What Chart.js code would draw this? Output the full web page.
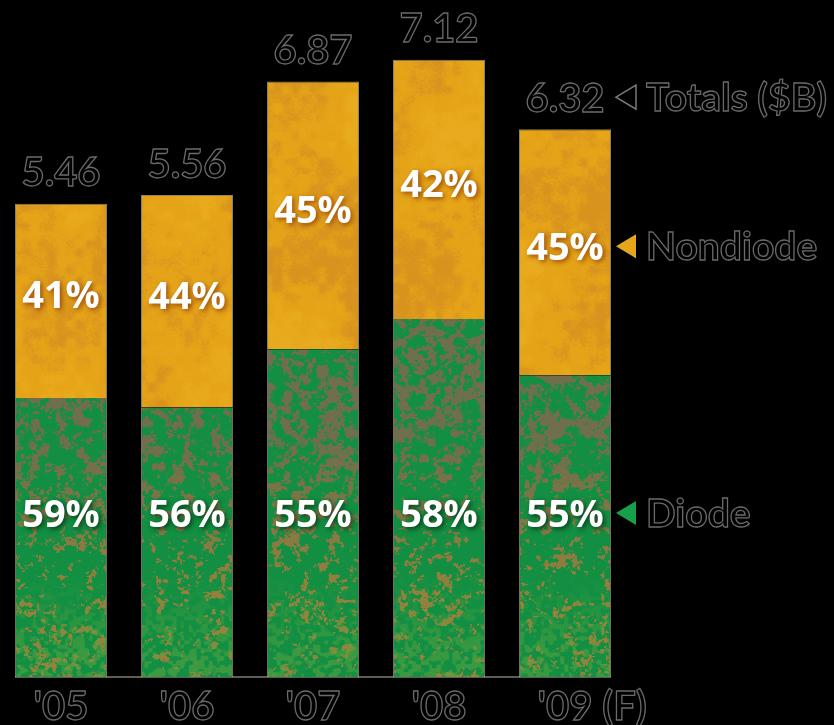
<!DOCTYPE html>
<html>
<head>
<meta charset="utf-8">
<script src="https://cdn.jsdelivr.net/npm/chart.js@4.4.0/dist/chart.umd.min.js"></script>
<style>
  html, body { margin: 0; padding: 0; background: #000; overflow: hidden; }
  #wrap { position: absolute; left: -2px; top: 0; width: 836px; height: 725px; }
</style>
</head>
<body>
<div id="wrap"><canvas id="chart" width="836" height="725"></canvas></div>
<script>
// values
const years = ["'05", "'06", "'07", "'08", "'09"];
const yearNotes = ["", "", "", "", " (F)"];
const totals = [5.46, 5.56, 6.87, 7.12, 6.32];
const diode = [3.22, 3.11, 3.78, 4.13, 3.48];
const nondiode = [2.24, 2.45, 3.09, 2.99, 2.84];
const diodePct = ["59%", "56%", "55%", "58%", "55%"];
const nondiodePct = ["41%", "44%", "45%", "42%", "45%"];
const legendNames = ["Totals ($B)", "Nondiode", "Diode"];

const W = 836, H = 725;

// seeded random so the texture is the same every time
function rng(seed) {
  return function () {
    seed = (seed * 1664525 + 1013904223) >>> 0;
    return seed / 4294967296;
  };
}
function lattice(cell, r) {
  const gw = Math.ceil(W / cell) + 2, gh = Math.ceil(H / cell) + 2;
  const a = new Float32Array(gw * gh);
  for (let i = 0; i < a.length; i++) a[i] = r();
  return { a, gw, cell };
}
function sample(L, x, y) {
  const fx = x / L.cell, fy = y / L.cell;
  const ix = Math.floor(fx), iy = Math.floor(fy);
  let tx = fx - ix, ty = fy - iy;
  tx = tx * tx * (3 - 2 * tx); ty = ty * ty * (3 - 2 * ty);
  const g = L.a, w = L.gw;
  const a = g[iy * w + ix], b = g[iy * w + ix + 1], c = g[(iy + 1) * w + ix], d = g[(iy + 1) * w + ix + 1];
  return (a * (1 - tx) + b * tx) * (1 - ty) + (c * (1 - tx) + d * tx) * ty;
}
function mix(c1, c2, t) {
  return [c1[0] + (c2[0] - c1[0]) * t, c1[1] + (c2[1] - c1[1]) * t, c1[2] + (c2[2] - c1[2]) * t];
}
function smooth(e0, e1, x) {
  const t = Math.min(1, Math.max(0, (x - e0) / (e1 - e0)));
  return t * t * (3 - 2 * t);
}

function makeTexture(kind, seed) {
  const off = document.createElement("canvas");
  off.width = W; off.height = H;
  const c = off.getContext("2d");
  const img = c.createImageData(W, H);
  const r = rng(seed);
  const coarse = lattice(9, r), mid = lattice(4, r), fine = lattice(1.6, r);
  const big = lattice(40, r);
  for (let y = 0; y < H; y++) {
    for (let x = 0; x < W; x++) {
      let col;
      if (kind === "green") {
        const n = 0.4 * sample(coarse, x, y) + 0.35 * sample(mid, x, y) + 0.25 * sample(fine, x, y);
        col = [18, 143, 66];
        const thr = 0.47 + 0.12 * smooth(380, 600, y);
        const m = smooth(thr, thr + 0.08, n);
        const spot = mix([122, 106, 78], [168, 126, 58], smooth(420, 620, y));
        col = mix(col, spot, m * 0.9);
        const lift = smooth(560, 670, y) * smooth(0.4, 0.65, sample(mid, x + 300, y + 50));
        col = mix(col, [92, 162, 64], lift * 0.55);
      } else {
        const n = 0.55 * sample(big, x, y * 0.6) + 0.3 * sample(coarse, x, y) + 0.15 * sample(fine, x, y);
        col = [229, 164, 24];
        col = mix(col, [210, 140, 32], smooth(0.5, 0.78, n) * 0.7);
        col = mix(col, [236, 176, 36], smooth(0.5, 0.25, n) * 0.5);
      }
      const i = (y * W + x) * 4;
      img.data[i] = col[0]; img.data[i + 1] = col[1]; img.data[i + 2] = col[2]; img.data[i + 3] = 255;
    }
  }
  c.putImageData(img, 0, 0);
  return off;
}

const canvas = document.getElementById("chart");
const ctx0 = canvas.getContext("2d");
const greenFill = ctx0.createPattern(makeTexture("green", 7), "no-repeat");
const orangeFill = ctx0.createPattern(makeTexture("orange", 42), "no-repeat");

function outlineText(ctx, text, x, y) {
  ctx.fillStyle = "#000";
  ctx.fillText(text, x, y);
  ctx.strokeStyle = "#6a6a6a";
  ctx.lineWidth = 1.3;
  ctx.strokeText(text, x, y);
}

const labelsPlugin = {
  id: "labels",
  beforeDatasetsDraw(chart) {
    const ctx = chart.ctx;
    const bars = chart.getDatasetMeta(0).data;
    const first = bars[0], last = bars[bars.length - 1];
    const yb = chart.scales.y.getPixelForValue(0);
    ctx.save();
    ctx.strokeStyle = "#5e5e52";
    ctx.lineWidth = 2;
    ctx.beginPath();
    ctx.moveTo(first.x - first.width / 2, yb);
    ctx.lineTo(last.x + last.width / 2, yb);
    ctx.stroke();
    ctx.restore();
  },
  afterDatasetsDraw(chart) {
    const ctx = chart.ctx;
    const yScale = chart.scales.y;
    const lower = chart.getDatasetMeta(0).data;
    const upper = chart.getDatasetMeta(1).data;
    const bottom = chart.chartArea.bottom;
    ctx.save();

    // totals above bars
    ctx.font = "bold 40px Lato";
    ctx.textAlign = "center";
    ctx.textBaseline = "alphabetic";
    const totalY = [];
    totals.forEach((t, i) => {
      const cy = yScale.getPixelForValue(t) - 32;
      totalY.push(cy);
      outlineText(ctx, t.toFixed(2), upper[i].x, cy + 14.5);
    });

    // percentages inside bars
    ctx.font = "bold 38px 'Open Sans'";
    const nonY = [];
    nondiodePct.forEach((p, i) => {
      const cy = (upper[i].y + upper[i].base) / 2 - 6;
      nonY.push(cy);
      ctx.shadowColor = "rgba(150,70,5,0.95)";
      ctx.shadowBlur = 5; ctx.shadowOffsetX = 2; ctx.shadowOffsetY = 2;
      ctx.fillStyle = "#fff";
      ctx.fillText(p, upper[i].x, cy + 13.5);
    });
    const diodeY = bottom - 164;
    diodePct.forEach((p, i) => {
      ctx.shadowColor = "rgba(10,50,20,0.9)";
      ctx.shadowBlur = 5; ctx.shadowOffsetX = 2; ctx.shadowOffsetY = 2;
      ctx.fillStyle = "#fff";
      ctx.fillText(p, lower[i].x, diodeY + 13.5);
    });
    ctx.shadowColor = "transparent";
    ctx.shadowBlur = 0; ctx.shadowOffsetX = 0; ctx.shadowOffsetY = 0;

    // x labels under bars
    ctx.font = "bold 40px Lato";
    ctx.textAlign = "left";
    years.forEach((yr, i) => {
      const w = ctx.measureText(yr).width;
      outlineText(ctx, yr + yearNotes[i], lower[i].x - w / 2, bottom + 28 + 14.5);
    });

    // legend on the right, lined up with the last bar's labels
    const n = upper.length - 1;
    const lx = upper[n].x + upper[n].width / 2;
    const rows = [
      { y: totalY[n], fill: "#000", stroke: "#7a7a7a" },
      { y: nonY[n], fill: "#e6a61c", stroke: null },
      { y: diodeY, fill: "#17a04a", stroke: null }
    ];
    ctx.font = "bold 39px Lato";
    rows.forEach((row, k) => {
      ctx.beginPath();
      ctx.moveTo(lx + 5, row.y);
      ctx.lineTo(lx + 25, row.y - 12);
      ctx.lineTo(lx + 25, row.y + 12);
      ctx.closePath();
      ctx.fillStyle = row.fill;
      ctx.fill();
      if (row.stroke) { ctx.strokeStyle = row.stroke; ctx.lineWidth = 1.5; ctx.stroke(); }
      outlineText(ctx, legendNames[k], lx + 35, row.y + 14);
    });
    ctx.restore();
  }
};

new Chart(canvas, {
  type: "bar",
  data: {
    labels: years,
    datasets: [
      {
        label: "Diode",
        data: diode,
        backgroundColor: greenFill,
        borderColor: "rgba(215,205,170,0.55)",
        borderWidth: { left: 1, right: 1, top: 0, bottom: 0 },
        borderSkipped: false,
        barPercentage: 0.73,
        categoryPercentage: 1
      },
      {
        label: "Nondiode",
        data: nondiode,
        backgroundColor: orangeFill,
        borderColor: "rgba(235,220,180,0.6)",
        borderWidth: { left: 1, right: 1, top: 1, bottom: 0 },
        borderSkipped: false,
        barPercentage: 0.73,
        categoryPercentage: 1
      }
    ]
  },
  options: {
    responsive: false,
    animation: false,
    devicePixelRatio: 1,
    layout: { padding: { left: 0, right: W - 630, top: 0, bottom: 48 } },
    plugins: { legend: { display: false }, tooltip: { enabled: false } },
    scales: {
      x: { stacked: true, display: false },
      y: { stacked: true, display: false, min: 0, max: 7.81 }
    }
  },
  plugins: [labelsPlugin]
});
</script>
</body>
</html>
